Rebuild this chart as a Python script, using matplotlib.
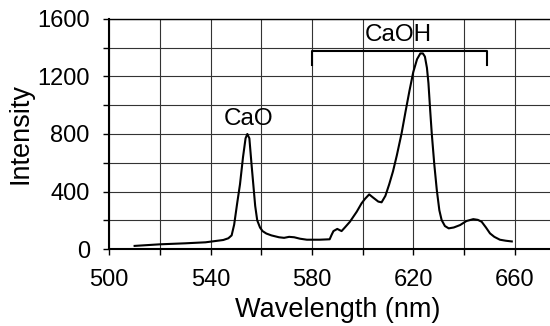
import numpy as np
import matplotlib
matplotlib.use('Agg')
import matplotlib.pyplot as plt

# espectro
wavelength = [510, 520, 530, 538, 545, 547, 548.3, 549.3, 550.5, 551.6, 552.8, 553.8,
              554.5, 555.3, 556.2, 556.9, 557.6, 558.4, 559.5, 560.5, 562, 564, 567,
              569, 571, 573, 575.3, 578, 583, 587, 587.8, 588.5, 590, 591.7, 593, 595,
              597.7, 599.6, 601, 602.6, 604, 606.2, 607.5, 609, 610.5, 612, 613.5,
              615.4, 617, 618.5, 620, 621.5, 622.8, 623.8, 624.6, 625.4, 626, 626.7,
              627.3, 628.3, 629.3, 630.3, 631.2, 632.5, 634, 636, 638.5, 641, 643.7,
              645.5, 647, 648.7, 650.3, 652, 654.2, 656.5, 658.9]
intensity = [22, 33, 40, 47, 63, 75, 95, 170, 320, 450, 640, 770,
             800, 770, 580, 440, 300, 200, 150, 125, 108, 95, 82,
             78, 85, 82, 72, 65, 65, 68, 100, 125, 140, 125, 150, 190,
             260, 318, 350, 380, 360, 330, 325, 370, 450, 540, 650,
             805, 960, 1100, 1230, 1320, 1360, 1360, 1338, 1260, 1153, 960,
             805, 590, 410, 270, 202, 160, 144, 150, 167, 195, 208,
             203, 190, 150, 109, 85, 65, 58, 53]

# corchete CaOH
bracket_x = [580, 580, 649, 649]
bracket_y = [1280, 1380, 1380, 1280]

plt.rcParams['font.family'] = ['Liberation Sans', 'DejaVu Sans']
fig = plt.figure(figsize=(5.5, 3.26), dpi=100)
ax = fig.add_axes([0.1987, 0.236, 0.829, 0.706])

ax.plot(wavelength, intensity, color='black', lw=1.5)
ax.plot(bracket_x, bracket_y, color='black', lw=1.5)
ax.text(614, 1490, 'CaOH', fontsize=17.5, ha='center', va='center')
ax.text(555, 905, 'CaO', fontsize=17.5, ha='center', va='center')

ax.set_xlim(500, 680)
ax.set_ylim(0, 1600)
ax.set_xticks([500, 540, 580, 620, 660])
ax.set_xticks(np.arange(500, 681, 20), minor=True)
ax.set_yticks([0, 400, 800, 1200, 1600])
ax.set_yticks(np.arange(0, 1601, 200), minor=True)
ax.grid(True, which='both', color='#333333', lw=0.8)
ax.tick_params(which='both', direction='out', length=4, width=1, labelsize=17, pad=10)

ax.spines['right'].set_visible(False)
ax.spines['left'].set_linewidth(1.5)
ax.spines['bottom'].set_linewidth(1.5)
ax.spines['top'].set_linewidth(1.0)

ax.set_xlabel('Wavelength (nm)', fontsize=19.5, labelpad=5)
ax.set_ylabel('Intensity', fontsize=19.5, labelpad=3)

fig.savefig('out.png', dpi=100)
